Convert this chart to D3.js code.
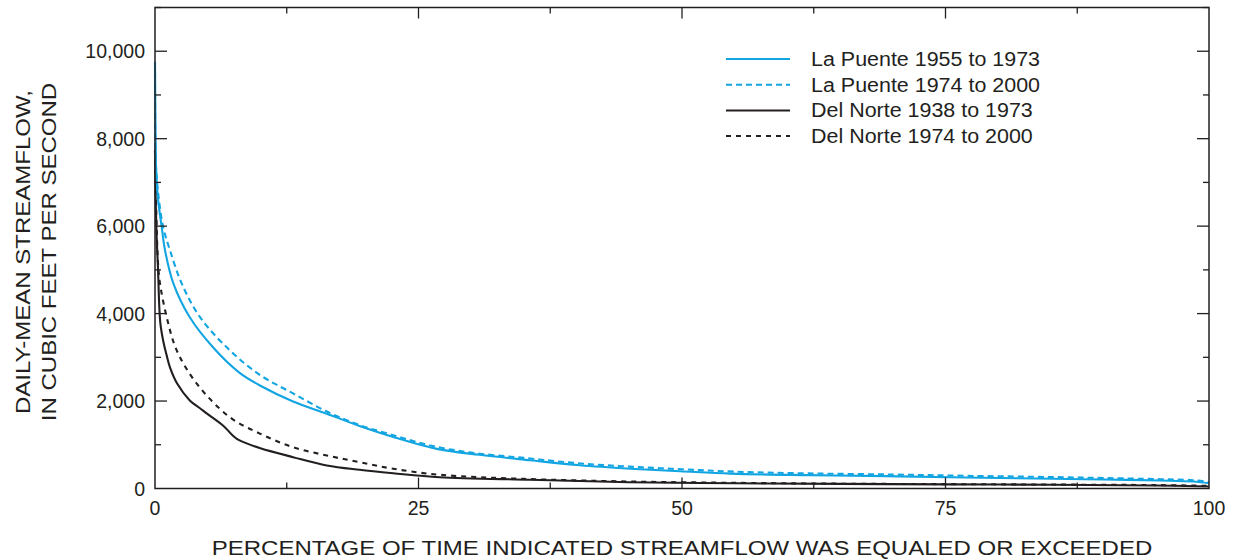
<!DOCTYPE html>
<html>
<head>
<meta charset="utf-8">
<script src="https://cdn.jsdelivr.net/npm/d3@7"></script>
<style>
  body { margin: 0; background: #fff; }
  text { font-family: "Liberation Sans", Arial, sans-serif; fill: #231f20; }
</style>
</head>
<body>
<script>
// flow-duration curves
var laPuente1P = [0, 0.05, 0.1, 0.3, 0.64, 0.95, 1.74, 3.3, 5.5, 8, 10, 13.1, 16.3, 19.4, 22.6, 27, 30.8, 35.6, 40.3, 45.1, 49.8, 54.6, 62, 69.4, 77, 85.2, 90, 95.4, 98.5, 100];
var laPuente1V = [9760, 8200, 7350, 6590, 5975, 5450, 4690, 3915, 3230, 2650, 2350, 1990, 1710, 1430, 1180, 895, 770, 645, 530, 452, 396, 340, 305, 282, 250, 222, 205, 183, 160, 121];

var laPuente2P = [0, 0.1, 0.38, 0.8, 1.42, 2.53, 4.27, 7.1, 10, 13.1, 16.3, 19.4, 22.6, 26, 30, 35, 40, 45, 50, 55, 62, 70, 77, 85, 90, 95, 98.5, 100];
var laPuente2V = [9500, 7350, 6590, 5950, 5450, 4690, 3920, 3160, 2590, 2175, 1760, 1450, 1220, 990, 820, 700, 580, 500, 440, 385, 345, 320, 290, 262, 240, 215, 190, 150];

var delNorte1P = [0, 0.05, 0.15, 0.28, 0.5, 0.8, 1.1, 1.42, 2.1, 3.3, 4.3, 5, 6.5, 7.3, 7.8, 8.4, 10, 13.1, 16.3, 19.4, 22.6, 27, 35.6, 45, 55, 65, 75, 85, 95, 100];
var delNorte1V = [7740, 6800, 5800, 5060, 3800, 3350, 3050, 2770, 2400, 2015, 1830, 1700, 1430, 1230, 1130, 1060, 920, 717, 527, 428, 350, 259, 200, 144, 121, 105, 95, 85, 70, 46];

var delNorte2P = [0, 0.1, 0.3, 0.47, 1.11, 2.06, 3.96, 7.1, 10, 13.1, 16.3, 19.4, 22.6, 27, 35, 45, 55, 65, 75, 85, 95, 100];
var delNorte2V = [7740, 6500, 5100, 4690, 3920, 3160, 2400, 1630, 1250, 945, 755, 602, 451, 314, 220, 160, 130, 110, 100, 90, 78, 60];

var seriesNames = ["La Puente 1955 to 1973", "La Puente 1974 to 2000", "Del Norte 1938 to 1973", "Del Norte 1974 to 2000"];
var yTicks = [0, 2000, 4000, 6000, 8000, 10000];
var xTicks = [0, 25, 50, 75, 100];

var drawChart = function()
{
  var width = 1233;
  var height = 560;
  var svg = d3.select("body").append("svg")
      .attr("width", width)
      .attr("height", height);

  var pLeft = 155, pRight = 1209, pTop = 7.5, pBottom = 488.5;

  var x = d3.scaleLinear().domain([0, 100]).range([pLeft, pRight]);
  var y = d3.scaleLinear().domain([0, 11000]).range([pBottom, pTop]);

  var blue = "#12a5e2";
  var black = "#231f20";

  var series = [
    {p: laPuente1P, v: laPuente1V, color: blue, dash: null},
    {p: laPuente2P, v: laPuente2V, color: blue, dash: "6,4"},
    {p: delNorte1P, v: delNorte1V, color: black, dash: null},
    {p: delNorte2P, v: delNorte2V, color: black, dash: "5,5"}
  ];

  var line = d3.line()
      .x(function(d){ return x(d[0]); })
      .y(function(d){ return y(d[1]); })
      .curve(d3.curveCatmullRom.alpha(0.5));

  // curves, drawn under the frame
  series.slice().reverse().forEach(function(s){
    var pts = s.p.map(function(p, i){ return [p, s.v[i]]; });
    svg.append("path")
      .attr("d", line(pts))
      .attr("fill", "none")
      .attr("stroke", s.color)
      .attr("stroke-width", 2.1)
      .attr("stroke-dasharray", s.dash);
  });

  // frame
  svg.append("rect")
    .attr("x", pLeft).attr("y", pTop)
    .attr("width", pRight - pLeft).attr("height", pBottom - pTop)
    .attr("fill", "none")
    .attr("stroke", black)
    .attr("stroke-width", 1.5);

  // y ticks, inside on both sides
  d3.range(1000, 11001, 1000).forEach(function(v){
    var len = v % 2000 == 0 ? 12 : 6;
    svg.append("line").attr("x1", pLeft).attr("x2", pLeft + len)
      .attr("y1", y(v)).attr("y2", y(v)).attr("stroke", black).attr("stroke-width", 1.3);
    svg.append("line").attr("x1", pRight).attr("x2", pRight - len)
      .attr("y1", y(v)).attr("y2", y(v)).attr("stroke", black).attr("stroke-width", 1.3);
  });

  // x ticks, inside on bottom and top
  d3.range(12.5, 100, 12.5).forEach(function(p){
    var len = p % 25 == 0 ? 11 : 6;
    svg.append("line").attr("x1", x(p)).attr("x2", x(p))
      .attr("y1", pBottom).attr("y2", pBottom - len).attr("stroke", black).attr("stroke-width", 1.3);
    svg.append("line").attr("x1", x(p)).attr("x2", x(p))
      .attr("y1", pTop).attr("y2", pTop + len).attr("stroke", black).attr("stroke-width", 1.3);
  });

  // the original type is wider than Arial, so stretch the glyphs a bit
  var stretch = function(sel, k){
    sel.each(function(){
      var n = this.getComputedTextLength();
      d3.select(this).attr("textLength", n * k).attr("lengthAdjust", "spacingAndGlyphs");
    });
  };

  var fmt = d3.format(",");
  svg.append("g").selectAll("text")
    .data(yTicks)
    .enter()
    .append("text")
    .attr("x", pLeft - 10)
    .attr("y", function(d){ return y(d); })
    .attr("dy", "0.36em")
    .attr("text-anchor", "end")
    .attr("font-size", 19.5)
    .text(function(d){ return fmt(d); });

  svg.append("g").selectAll("text")
    .data(xTicks)
    .enter()
    .append("text")
    .attr("x", function(d){ return x(d); })
    .attr("y", 515)
    .attr("text-anchor", "middle")
    .attr("font-size", 19.5)
    .text(function(d){ return d; });

  // axis titles
  var xTitle = svg.append("text")
    .attr("x", 682)
    .attr("y", 555)
    .attr("text-anchor", "middle")
    .attr("font-size", 20)
    .text("PERCENTAGE OF TIME INDICATED STREAMFLOW WAS EQUALED OR EXCEEDED");
  stretch(xTitle, 1.2);

  var yTitle = svg.append("text")
    .attr("transform", "translate(30,252) rotate(-90)")
    .attr("text-anchor", "middle")
    .attr("font-size", 20);
  var t1 = yTitle.append("tspan").attr("x", 0).attr("y", 0).text("DAILY-MEAN STREAMFLOW,");
  var t2 = yTitle.append("tspan").attr("x", 0).attr("y", 26).text("IN CUBIC FEET PER SECOND");
  stretch(t1, 1.2);
  stretch(t2, 1.2);

  // legend
  var legend = svg.append("g");
  series.forEach(function(s, i){
    var ly = 59 + i * 25.7;
    legend.append("line")
      .attr("x1", 726).attr("x2", 790)
      .attr("y1", ly).attr("y2", ly)
      .attr("stroke", s.color)
      .attr("stroke-width", 2)
      .attr("stroke-dasharray", s.dash);
    var t = legend.append("text")
      .attr("x", 811)
      .attr("y", ly)
      .attr("dy", "0.36em")
      .attr("font-size", 19.5)
      .text(seriesNames[i]);
    stretch(t, 1.1);
  });
}

drawChart();
</script>
</body>
</html>
